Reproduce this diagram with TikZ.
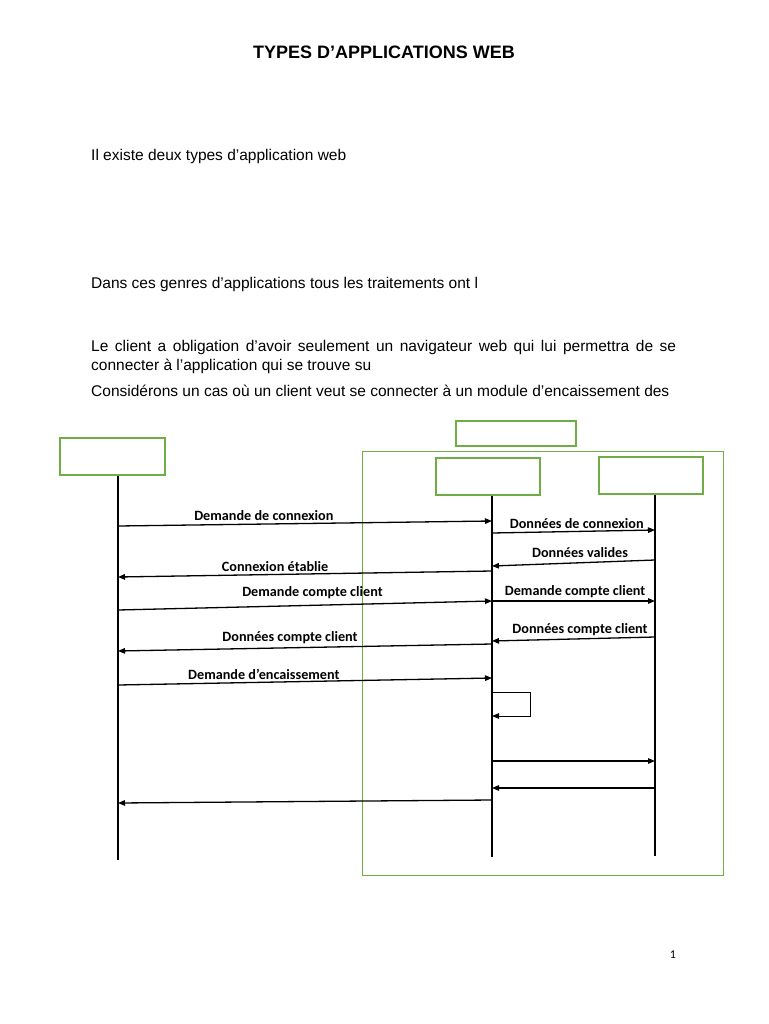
\documentclass[tikz,border=0pt]{standalone}
\usepackage{fontspec}
\setmainfont{Liberation Sans}
\newfontfamily\calibri{Carlito}
\usepackage{xcolor}
\usepackage{tikz}
\usetikzlibrary{arrows.meta, positioning}

\definecolor{boxgreen}{HTML}{70AD47}

\begin{document}
\begin{tikzpicture}[
  x=1pt, y=-1pt,
  actor/.style={draw=boxgreen, line width=1.5pt, minimum width=104pt, minimum height=37pt, inner sep=0pt},
  life/.style={line width=2pt},
  msg/.style={-{Triangle[length=7pt, width=5.5pt]}, line width=1.3pt},
  lbl/.style={font=\calibri\bfseries\fontsize{14.2}{16}\selectfont, inner sep=2.5pt, above},
  body/.style={font=\fontsize{15.5}{18}\selectfont, inner sep=0pt, anchor=base west}
]
\useasboundingbox (0,0) rectangle (768,1024);
\fill[white] (0,0) rectangle (768,1024);

% page text
\node[font=\bfseries\fontsize{18}{21}\selectfont, inner sep=0pt, anchor=base] (title) at (384,58.5) {TYPES D’APPLICATIONS WEB};
\node[body] (intro) at (91,160.5) {Il existe deux types d’application web};
\node[body] (genres) at (91,288.5) {Dans ces genres d’applications tous les traitements ont l};
\node[body] (client1) at (91,351.5) {\makebox[585pt][s]{Le client a obligation d’avoir seulement un navigateur web qui lui permettra de se}};
\node[body] (client2) at (91,370.5) {connecter à l’application qui se trouve su};
\node[body] (cas) at (91,396.5) {Considérons un cas où un client veut se connecter à un module d’encaissement des};

% participants
\node[draw=boxgreen, line width=1pt, minimum width=361pt, minimum height=424pt] (srv) at (542.5,663) {};
\node[actor, minimum width=105pt] (cli) at (112.5,456.5) {};
\node[actor, minimum width=120pt, minimum height=25pt] (app) at (516,433.5) {};
\node[actor] (web) at (488,476.5) {};
\node[actor] (bd) at (651,475.5) {};

% lifelines
\coordinate (cliEnd) at (118,860);
\coordinate (webEnd) at (492,857);
\coordinate (bdEnd) at (655,856);
\draw[life] (cli.south -| cliEnd) -- (cliEnd);
\draw[life] (web.south -| webEnd) -- (webEnd);
\draw[life] (bd.south -| bdEnd) -- (bdEnd);

% messages
\draw[msg] (cliEnd |- 0,526) -- (webEnd |- 0,521) node[lbl, pos=0.39] (m1) {Demande de connexion};
\draw[msg] (webEnd |- 0,533) -- (bdEnd |- 0,530) node[lbl, pos=0.52] (m2) {Données de connexion};
\draw[msg] (bdEnd |- 0,560) -- (webEnd |- 0,566) node[lbl, pos=0.46, yshift=2pt] (m3) {Données valides};
\draw[msg] (webEnd |- 0,571) -- (cliEnd |- 0,577) node[lbl, pos=0.58] (m4) {Connexion établie};
\draw[msg] (cliEnd |- 0,610) -- (webEnd |- 0,601) node[lbl, pos=0.52, yshift=3pt] (m5) {Demande compte client};
\draw[msg] (webEnd |- 0,601) -- (bdEnd |- 0,601) node[lbl, pos=0.51] (m6) {Demande compte client};
\draw[msg] (bdEnd |- 0,637) -- (webEnd |- 0,641) node[lbl, pos=0.46] (m7) {Données compte client};
\draw[msg] (webEnd |- 0,644) -- (cliEnd |- 0,651) node[lbl, pos=0.54, yshift=1pt] (m8) {Données compte client};
\draw[msg] (cliEnd |- 0,685) -- (webEnd |- 0,678) node[lbl, pos=0.39] (m9) {Demande d’encaissement};
\draw[msg, line width=1pt] (webEnd |- 0,692) -| (530,716) -- (webEnd |- 0,716);
\draw[msg] (webEnd |- 0,761) -- (bdEnd |- 0,761);
\draw[msg] (bdEnd |- 0,788) -- (webEnd |- 0,788);
\draw[msg] (webEnd |- 0,800) -- (cliEnd |- 0,803);

\node[font=\calibri\fontsize{12}{14}\selectfont, inner sep=0pt] (pagenum) at (673,955) {1};
\end{tikzpicture}
\end{document}
